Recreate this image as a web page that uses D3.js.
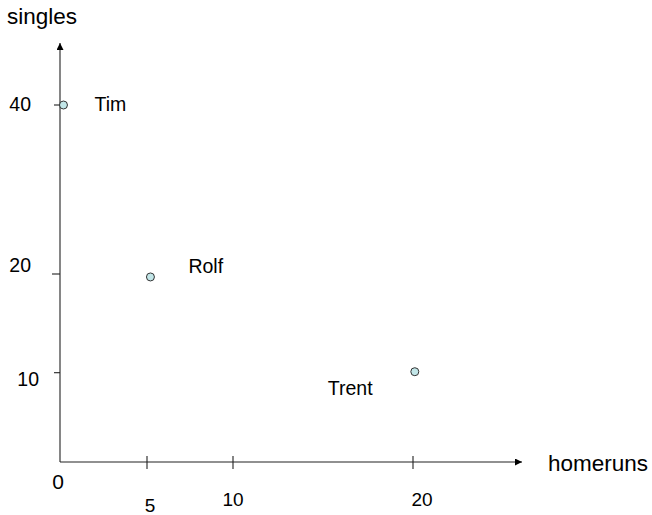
<!DOCTYPE html>
<html>
<head>
<meta charset="utf-8">
<script src="https://cdn.jsdelivr.net/npm/d3@7"></script>
<style>
  html, body { margin: 0; padding: 0; background: #fff; }
  svg { display: block; }
  text { font-family: "Liberation Sans", Arial, sans-serif; fill: #000; }
</style>
</head>
<body>
<script>
// ---- data ----
const players   = ["Tim", "Rolf", "Trent"];
const homeruns  = [0.2, 5.2, 20.1];
const singles   = [40, 19.7, 10.1];
const xTicks    = [5, 10, 20];
const yTicks    = [10, 20, 40];
const xTitle    = "homeruns";
const yTitle    = "singles";
const originLabel = "0";

// ---- layout ----
const W = 652, H = 515;
const svg = d3.select("body").append("svg").attr("width", W).attr("height", H);

// hand-drawn axis spacing (piecewise linear)
const x = d3.scaleLinear().domain([0, 5, 10, 20]).range([60, 147, 233, 413]);
const y = d3.scaleLinear().domain([0, 10, 20, 40]).range([462, 372.7, 274, 105]);

const axisColor = "#222";

// arrow markers
const defs = svg.append("defs");
defs.append("marker").attr("id", "arr")
  .attr("viewBox", "0 0 10 10").attr("refX", 10).attr("refY", 5)
  .attr("markerWidth", 9).attr("markerHeight", 7).attr("markerUnits", "userSpaceOnUse")
  .attr("orient", "auto")
  .append("path").attr("d", "M0,0L10,5L0,10Z").attr("fill", "#000");

// axes lines
svg.append("line").attr("x1", x(0)).attr("y1", y(0)).attr("x2", 522).attr("y2", y(0))
  .attr("stroke", axisColor).attr("stroke-width", 1.1).attr("marker-end", "url(#arr)");
svg.append("line").attr("x1", x(0)).attr("y1", y(0)).attr("x2", x(0)).attr("y2", 43)
  .attr("stroke", axisColor).attr("stroke-width", 1.1).attr("marker-end", "url(#arr)");

// x ticks (crossing the axis)
svg.selectAll(".xt").data(xTicks).enter().append("line")
  .attr("x1", d => x(d)).attr("x2", d => x(d))
  .attr("y1", y(0) - 6).attr("y2", y(0) + 7)
  .attr("stroke", axisColor).attr("stroke-width", 1.1);

// y ticks (left side only)
const yTickLen = [6, 8, 6];
svg.selectAll(".yt").data(yTicks).enter().append("line")
  .attr("x1", (d, i) => x(0) - yTickLen[i]).attr("x2", x(0))
  .attr("y1", d => y(d)).attr("y2", d => y(d))
  .attr("stroke", axisColor).attr("stroke-width", 1.1);

// x tick labels (irregular hand placement)
const xLabOff = [[3, 50], [0, 44], [9, 44]];
svg.selectAll(".xl").data(xTicks).enter().append("text")
  .attr("x", (d, i) => x(d) + xLabOff[i][0])
  .attr("y", (d, i) => y(0) + xLabOff[i][1])
  .attr("text-anchor", "middle").attr("font-size", 19)
  .text(d => d);

// y tick labels
const yLabRight = [39, 31, 31];
const yLabDy = [13.5, -2, 6];
svg.selectAll(".yl").data(yTicks).enter().append("text")
  .attr("x", (d, i) => yLabRight[i])
  .attr("y", (d, i) => y(d) + yLabDy[i])
  .attr("text-anchor", "end").attr("font-size", 19.5)
  .text(d => d);

// origin label
svg.append("text").attr("x", 58).attr("y", 489).attr("text-anchor", "middle")
  .attr("font-size", 21).text(originLabel);

// axis titles
svg.append("text").attr("x", 7).attr("y", 24).attr("font-size", 22.5).text(yTitle);
svg.append("text").attr("x", 548).attr("y", 471).attr("font-size", 22.5).text(xTitle);

// points
svg.selectAll(".pt").data(players).enter().append("circle")
  .attr("cx", (d, i) => x(homeruns[i]))
  .attr("cy", (d, i) => y(singles[i]))
  .attr("r", 4)
  .attr("fill", "#c2e6e8").attr("stroke", "#333").attr("stroke-width", 1);

// point labels
const nameOff = [[31, 6], [38, -4], [-87, 23]];
svg.selectAll(".nm").data(players).enter().append("text")
  .attr("x", (d, i) => x(homeruns[i]) + nameOff[i][0])
  .attr("y", (d, i) => y(singles[i]) + nameOff[i][1])
  .attr("font-size", 19.5)
  .text(d => d);
</script>
</body>
</html>
